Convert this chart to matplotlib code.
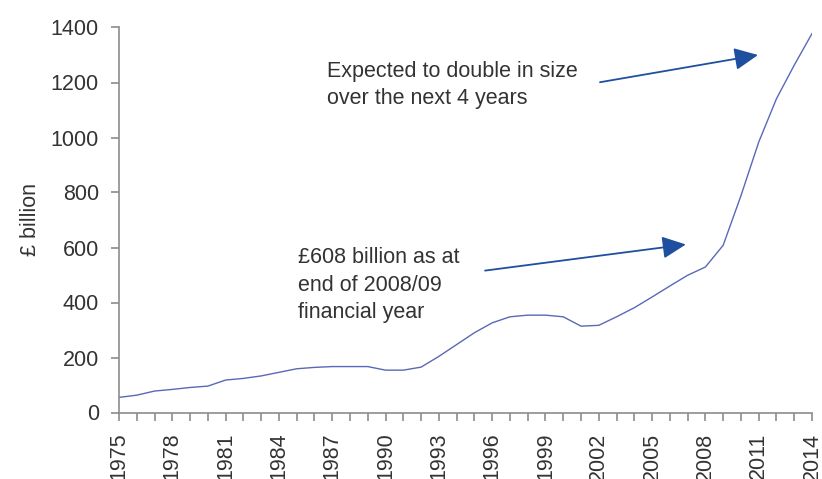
import numpy as np
import matplotlib.pyplot as plt
from matplotlib.ticker import MultipleLocator

plt.rcParams['font.family'] = ['Liberation Sans', 'DejaVu Sans']

years = list(range(1975, 2015))
debt = [55, 63, 78, 84, 91, 96, 118, 124, 133, 146,
        159, 164, 167, 167, 167, 154, 154, 165, 204, 247,
        290, 326, 348, 354, 354, 348, 314, 317, 348, 381,
        420, 460, 499, 529, 608, 788, 983, 1141, 1263, 1378]
year_ticks = years[::3]

note_top = "Expected to double in size\nover the next 4 years"
note_mid = "£608 billion as at\nend of 2008/09\nfinancial year"

txt = '#333333'
grey = '#8c8c8c'
line_col = '#5a68b8'
arrow_col = '#1f4f9f'
fs = 15.5

fig = plt.figure(figsize=(8.22, 4.79), dpi=100)
ax = fig.add_axes([119/822, 1 - 412.5/479, (812-119)/822, (412.5-27.5)/479])

ax.plot(years, debt, color=line_col, lw=1.0)

ax.set_xlim(1975, 2014)
ax.set_ylim(0, 1400)
ax.set_xticks(year_ticks)
ax.xaxis.set_minor_locator(MultipleLocator(1))
ax.yaxis.set_major_locator(MultipleLocator(200))

for s in ['top', 'right']:
    ax.spines[s].set_visible(False)
for s in ['left', 'bottom']:
    ax.spines[s].set_color(grey)
    ax.spines[s].set_linewidth(1.2)

ax.tick_params(axis='both', which='both', direction='out', length=5.5,
               width=1.2, color=grey, labelcolor=txt, labelsize=fs, pad=9)
ax.tick_params(axis='x', which='major', labelrotation=90)

fig.text(30/822, 1 - 220/479, '£ billion', rotation=90, ha='center',
         va='center', fontsize=fs, color=txt)

ax.text(1986.7, 1279, note_top, ha='left', va='top', fontsize=fs,
        color=txt, linespacing=1.4)
ax.text(1985.05, 601, note_mid, ha='left', va='top', fontsize=fs,
        color=txt, linespacing=1.4)

astyle = dict(arrowstyle='-|>,head_length=1.44,head_width=0.68',
              color=arrow_col, lw=1.3, mutation_scale=10, shrinkA=0, shrinkB=0)
ax.annotate('', xy=(2010.96, 1300), xytext=(2002.07, 1201), arrowprops=astyle)
ax.annotate('', xy=(2006.9, 611), xytext=(1995.6, 516), arrowprops=astyle)

fig.savefig('out.png', dpi=100)
